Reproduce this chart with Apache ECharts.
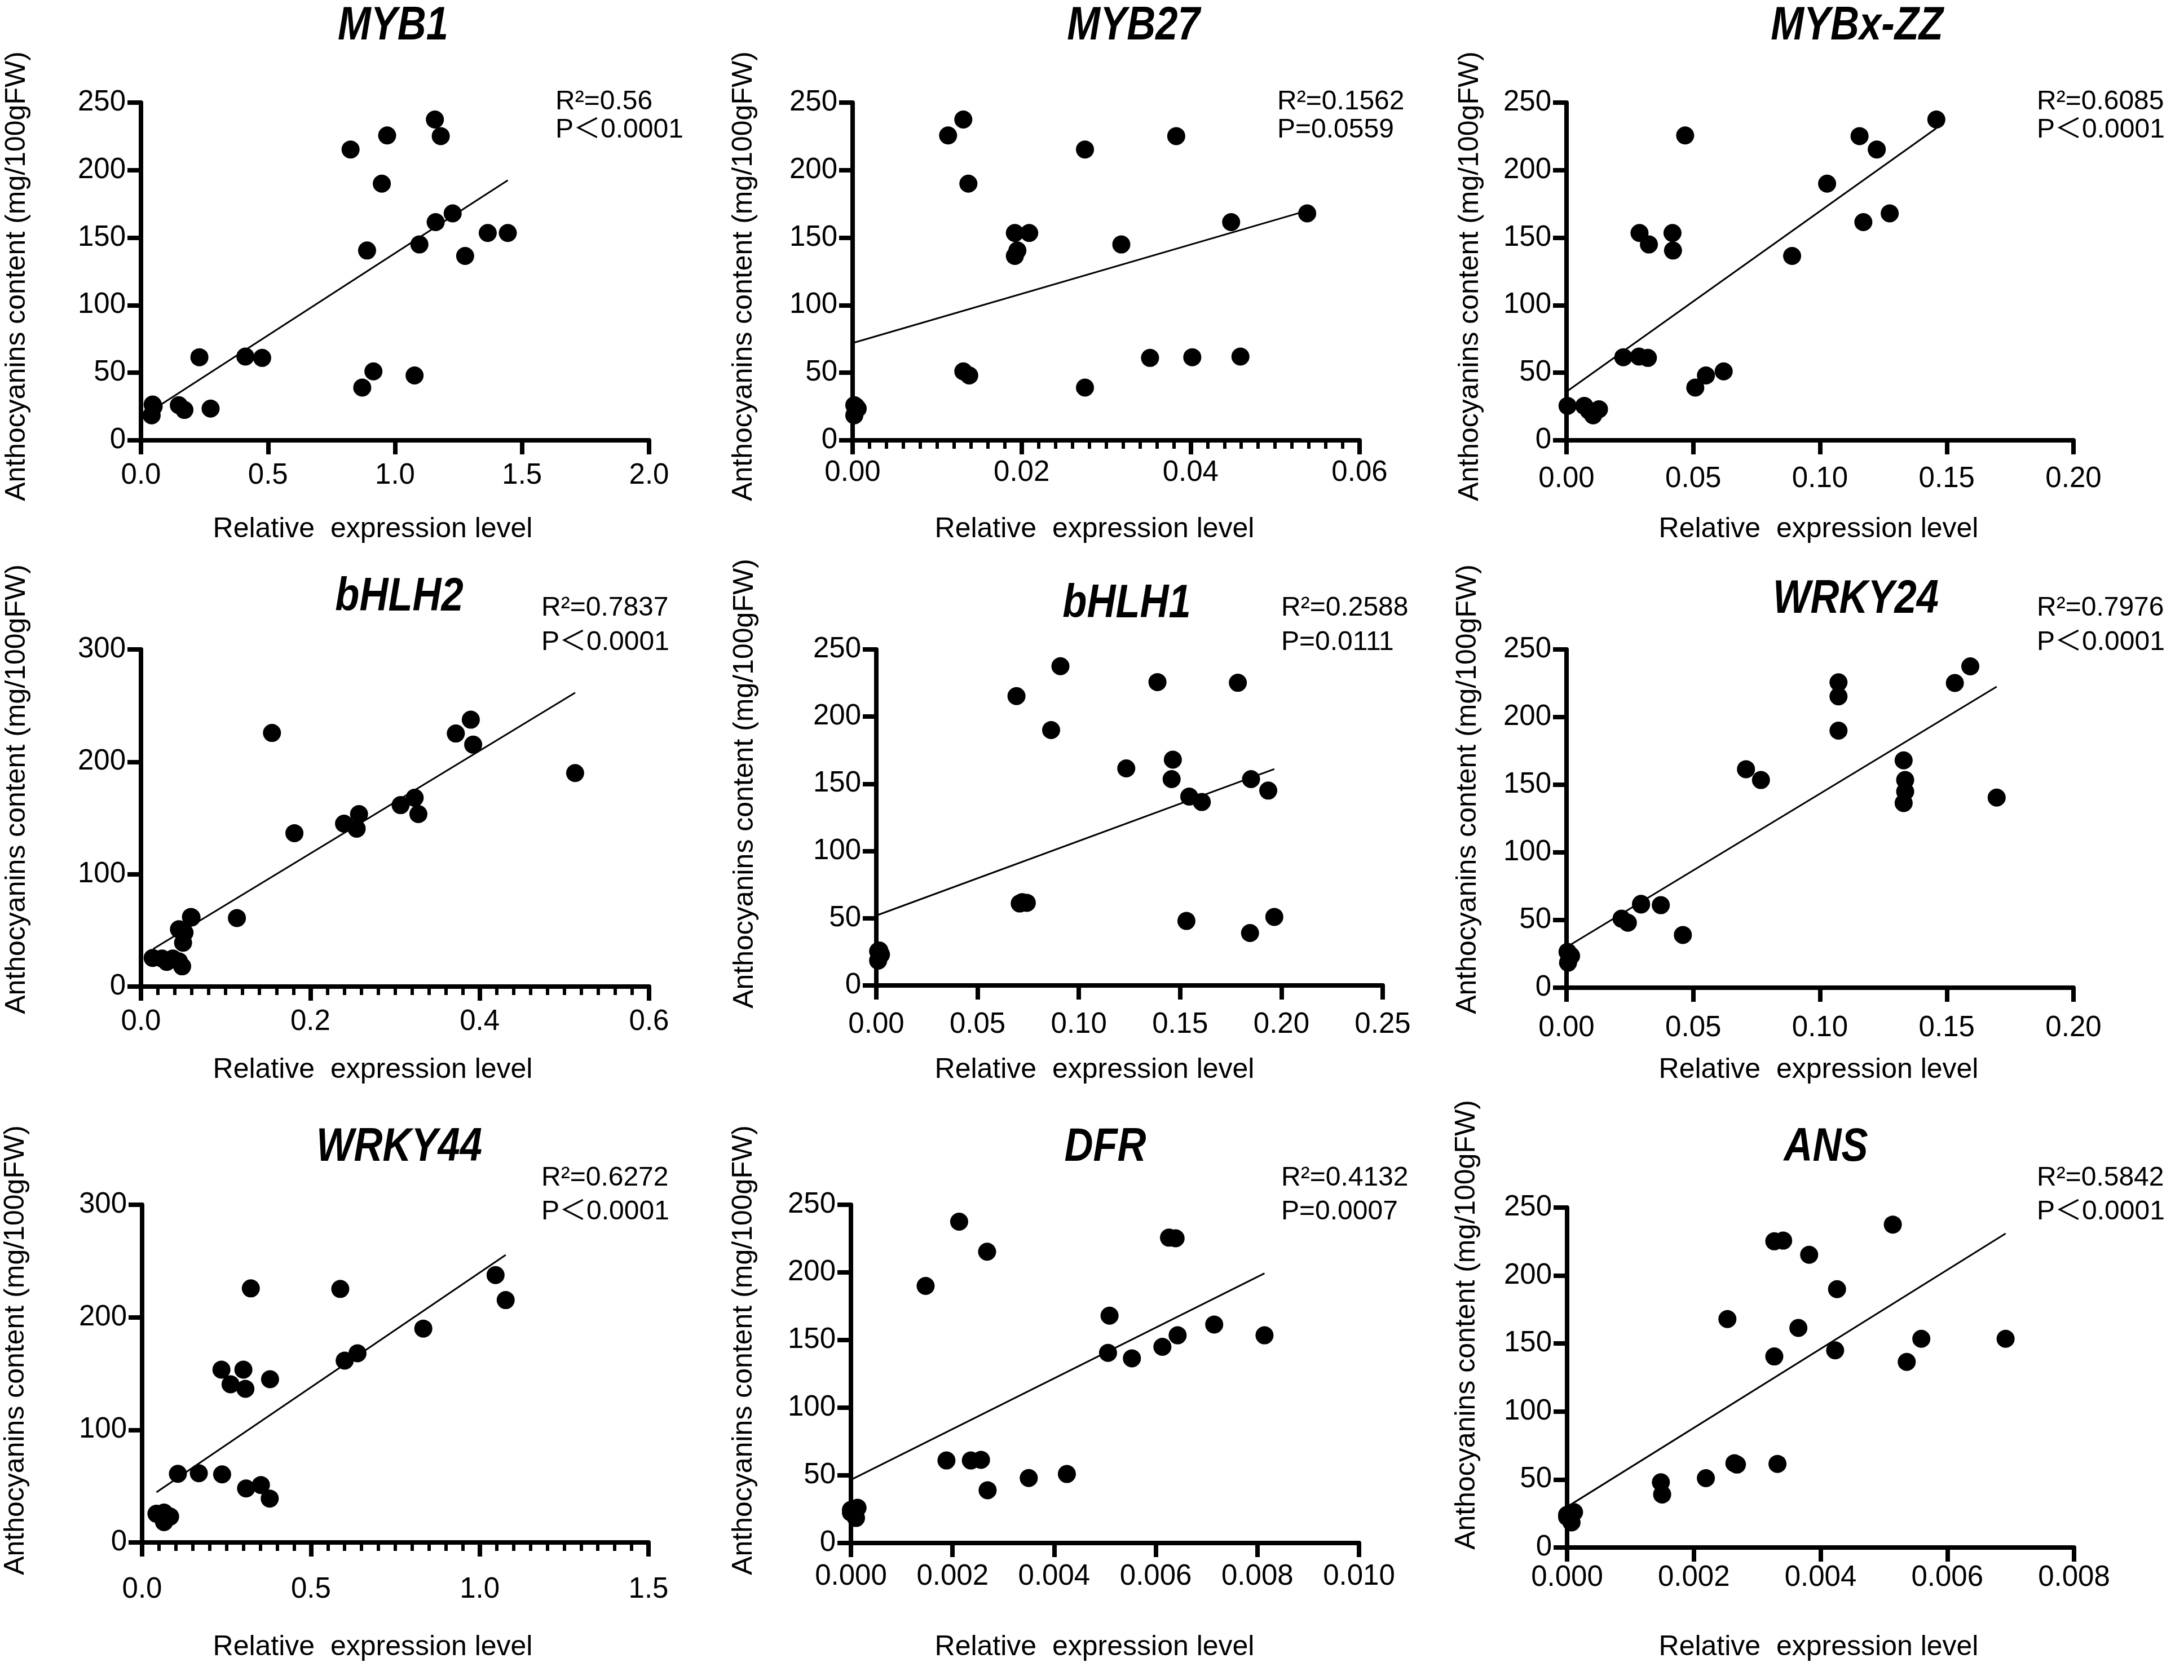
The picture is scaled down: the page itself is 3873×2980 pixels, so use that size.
<!DOCTYPE html>
<html>
<head>
<meta charset="utf-8"/>
<title>Anthocyanins vs relative expression</title>
<script src="https://cdn.jsdelivr.net/npm/echarts@6/dist/echarts.min.js"></script>
<style>
    html, body { margin: 0; padding: 0; background: #fff; }
    #main { width: 3873px; height: 2980px; }
</style>
</head>
<body>
<div id="main"></div>
<script>
    // ---- data ----
    var genes = ['MYB1', 'MYB27', 'MYBx-ZZ', 'bHLH2', 'bHLH1', 'WRKY24', 'WRKY44', 'DFR', 'ANS'];
    var r2Labels = ['R\u00b2=0.56', 'R\u00b2=0.1562', 'R\u00b2=0.6085', 'R\u00b2=0.7837', 'R\u00b2=0.2588',
        'R\u00b2=0.7976', 'R\u00b2=0.6272', 'R\u00b2=0.4132', 'R\u00b2=0.5842'];
    var pLabels = ['P\uff1c0.0001', 'P=0.0559', 'P\uff1c0.0001', 'P\uff1c0.0001', 'P=0.0111',
        'P\uff1c0.0001', 'P\uff1c0.0001', 'P=0.0007', 'P\uff1c0.0001'];

    var myb1X = [1.157, 0.969, 1.180, 0.825, 0.948, 1.227, 1.160, 1.365, 1.444, 1.096, 0.890, 1.276, 0.230, 0.411, 0.477, 0.915, 1.077, 0.871, 0.046, 0.042, 0.149, 0.171, 0.274, 0.050];
    var myb1Y = [237.5, 225.7, 225.2, 215.3, 190, 168, 161.5, 153.5, 153.5, 145, 140.5, 136.5, 61.5, 62, 61, 51, 48, 39, 26.5, 18.5, 26, 22.5, 23.5, 25];

    var myb27X = [0.0131, 0.0113, 0.0383, 0.0275, 0.0137, 0.0538, 0.0448, 0.0192, 0.0209, 0.0318, 0.0195, 0.0192, 0.0352, 0.0402, 0.0459, 0.0131, 0.0138, 0.0275, 0.0002, 0.0006, 0.0002, 0.0004];
    var myb27Y = [237.5, 225.7, 225.2, 215.3, 190, 168, 161.5, 153.5, 153.5, 145, 140.5, 136.5, 61, 61.5, 62, 51, 48, 39, 26, 23.5, 18.5, 25];

    var mybxX = [0.1459, 0.0468, 0.1156, 0.1224, 0.1028, 0.1275, 0.1171, 0.0288, 0.0418, 0.0325, 0.0420, 0.0890, 0.0224, 0.0286, 0.0321, 0.0620, 0.0550, 0.0508, 0.0004, 0.0070, 0.0088, 0.0105, 0.0128];
    var mybxY = [237.5, 225.7, 225.2, 215.3, 190, 168, 161.5, 153.5, 153.5, 145, 140.5, 136.5, 61.5, 62, 61, 51, 48, 39, 25.5, 25.5, 22, 18.5, 23];

    var bhlh2X = [0.3895, 0.1547, 0.3718, 0.3923, 0.5127, 0.3232, 0.3066, 0.2575, 0.3276, 0.2398, 0.2547, 0.1812, 0.0597, 0.1133, 0.0448, 0.0514, 0.0497, 0.0138, 0.0249, 0.0304, 0.0376, 0.0448, 0.0486, 0.0590];
    var bhlh2Y = [237.5, 225.7, 225.2, 215.3, 190, 168, 161.5, 153.5, 153.5, 145, 140.5, 136.5, 61.5, 61, 51, 48, 39, 25.5, 25, 22, 25, 22.5, 18, 62];

    var bhlh1X = [0.0909, 0.1388, 0.1785, 0.0692, 0.0863, 0.1464, 0.1234, 0.1458, 0.1850, 0.1935, 0.1545, 0.1607, 0.0708, 0.0743, 0.0720, 0.1531, 0.1965, 0.1845, 0.0009, 0.0023, 0.0009, 0.0015];
    var bhlh1Y = [237.5, 225.7, 225.2, 215.3, 190, 168, 161.5, 153.5, 153.5, 145, 140.5, 136.5, 61, 61.5, 62, 48, 51, 39, 25.5, 23, 18.5, 26];

    var wrky24X = [0.1593, 0.1073, 0.1532, 0.1073, 0.1073, 0.1330, 0.0708, 0.0767, 0.1336, 0.1336, 0.1697, 0.1330, 0.0294, 0.0372, 0.0294, 0.0217, 0.0242, 0.0459, 0.0004, 0.0018, 0.0006, 0.0010];
    var wrky24Y = [237.5, 225.7, 225.2, 215.3, 190, 168, 161.5, 153.5, 153.5, 145, 140.5, 136.5, 61.5, 61, 62, 51, 48, 39, 26.5, 23.5, 18.5, 25];

    var wrky44X = [1.047, 0.322, 0.587, 1.077, 0.833, 0.638, 0.600, 0.235, 0.300, 0.379, 0.262, 0.306, 0.106, 0.168, 0.237, 0.352, 0.308, 0.378, 0.0425, 0.065, 0.083, 0.065];
    var wrky44Y = [237.5, 225.7, 225.2, 215.3, 190, 168, 161.5, 153.5, 153.5, 145, 140.5, 136.5, 61, 61.5, 60.5, 51, 48, 39, 25.5, 26.5, 23, 18];

    var dfrX = [0.00213, 0.00626, 0.00639, 0.00268, 0.00147, 0.00509, 0.00715, 0.00643, 0.00814, 0.00613, 0.00506, 0.00553, 0.00188, 0.00236, 0.00256, 0.00425, 0.00350, 0.00269, 0.0000, 0.00013, 0.0000, 0.00010];
    var dfrY = [237.5, 225.7, 225.2, 215.3, 190, 168, 161.5, 153.5, 153.5, 145, 140.5, 136.5, 61, 61, 61.5, 51, 48, 39, 24.5, 26, 22.5, 18.5];

    var ansX = [0.00514, 0.00327, 0.00341, 0.00382, 0.00426, 0.00253, 0.00365, 0.00559, 0.00692, 0.00423, 0.00327, 0.00536, 0.00264, 0.00268, 0.00332, 0.00219, 0.00148, 0.00150, 0.0000, 0.00011, 0.0000, 0.00007];
    var ansY = [237.5, 225.2, 225.7, 215.3, 190, 168, 161.5, 153.5, 153.5, 145, 140.5, 136.5, 62, 61, 61.5, 51, 48, 39, 24, 26, 22.5, 18.5];

    // fitted line end points (x, y) as drawn in the figure
    var myb1Fit = [[0.042, 22], [1.444, 192.5]];
    var myb27Fit = [[0, 72], [0.0538, 170]];
    var mybxFit = [[0, 36], [0.1459, 231]];
    var bhlh2Fit = [[0.0144, 33.5], [0.5127, 261.5]];
    var bhlh1Fit = [[0, 52], [0.1965, 161]];
    var wrky24Fit = [[0, 30], [0.1697, 222.5]];
    var wrky44Fit = [[0.0425, 44.6], [1.077, 255.4]];
    var dfrFit = [[0, 46.7], [0.00814, 199.3]];
    var ansFit = [[0, 29.9], [0.00692, 230.9]];

    // axis ranges / ticks
    var xMax = [2, 0.06, 0.2, 0.6, 0.25, 0.2, 1.5, 0.01, 0.008];
    var xStep = [0.5, 0.02, 0.05, 0.2, 0.05, 0.05, 0.5, 0.002, 0.002];
    var xDecimals = [1, 2, 2, 1, 2, 2, 1, 3, 3];
    var xMinor = [false, true, false, true, false, false, true, false, false];
    var yMax = [250, 250, 250, 300, 250, 250, 300, 250, 250];
    var yStep = [50, 50, 50, 100, 50, 50, 100, 50, 50];

    var xs = [myb1X, myb27X, mybxX, bhlh2X, bhlh1X, wrky24X, wrky44X, dfrX, ansX];
    var ys = [myb1Y, myb27Y, mybxY, bhlh2Y, bhlh1Y, wrky24Y, wrky44Y, dfrY, ansY];
    var fits = [myb1Fit, myb27Fit, mybxFit, bhlh2Fit, bhlh1Fit, wrky24Fit, wrky44Fit, dfrFit, ansFit];

    // ---- layout (pixels) ----
    // plot box: left, top, right, bottom
    var boxes = [
        [250, 182, 1151, 781], [1512, 182, 2411, 781], [2778, 182, 3677, 781],
        [250, 1152, 1151, 1750], [1554, 1152, 2452, 1748], [2778, 1152, 3677, 1752],
        [252, 2137, 1150, 2736], [1509, 2137, 2410, 2737], [2779, 2142, 3678, 2745]
    ];
    var xLabelMargin = [37, 32, 43, 37, 44, 46, 58, 34, 28];
    var titlePos = [[697, 47], [2010, 47], [3293, 47], [708, 1060], [1998, 1072], [3291, 1064], [708, 2036], [1960, 2036], [3238, 2036]];
    var statX = [985, 2265, 3612, 960, 2272, 3612, 960, 2272, 3612];
    var statY = [[181, 231], [181, 231], [181, 231], [1079, 1140], [1079, 1140], [1079, 1140], [2090, 2150], [2090, 2150], [2090, 2150]];
    var yNamePos = [[30, 490], [1319, 490], [2607, 490], [30, 1400], [1321, 1390], [2603, 1400], [28, 2395], [1319, 2395], [2601, 2350]];
    var xNamePos = [[661, 939], [1941, 939], [3225, 939], [661, 1898], [1941, 1898], [3225, 1898], [661, 2922], [1941, 2922], [3225, 2922]];

    var FONT = '"Liberation Sans", Arial, "Noto Sans CJK SC", sans-serif';
    var LW = 8;

    var grids = [], xAxes = [], yAxes = [], series = [], graphics = [];

    for (var i = 0; i < 9; i++) {
        var b = boxes[i];
        grids.push({left: b[0], top: b[1], width: b[2] - b[0], height: b[3] - b[1], containLabel: false});

        (function (dec) {
            xAxes.push({
                type: 'value', gridIndex: i, min: 0, max: xMax[i], interval: xStep[i],
                axisLine: {show: true, onZero: false, lineStyle: {color: '#000', width: LW}},
                axisTick: {show: true, length: 25, lineStyle: {color: '#000', width: LW}},
                minorTick: {show: xMinor[i], splitNumber: 10, length: 15, lineStyle: {color: '#000', width: 6}},
                splitLine: {show: false},
                axisLabel: {
                    color: '#000', fontSize: 51, fontFamily: FONT, margin: xLabelMargin[i],
                    formatter: function (v) { return v.toFixed(dec); }
                }
            });
        })(xDecimals[i]);

        yAxes.push({
            type: 'value', gridIndex: i, min: 0, max: yMax[i], interval: yStep[i],
            axisLine: {show: true, onZero: false, lineStyle: {color: '#000', width: LW}},
            axisTick: {show: true, length: 24, lineStyle: {color: '#000', width: LW}},
            splitLine: {show: false},
            axisLabel: {color: '#000', fontSize: 51, fontFamily: FONT, margin: 27}
        });

        var pts = [];
        for (var k = 0; k < xs[i].length; k++) pts.push([xs[i][k], ys[i][k]]);

        series.push({
            type: 'line', xAxisIndex: i, yAxisIndex: i, data: fits[i],
            symbol: 'none', silent: true, z: 2,
            lineStyle: {color: '#000', width: 3}
        });
        series.push({
            type: 'scatter', xAxisIndex: i, yAxisIndex: i, data: pts,
            symbol: 'circle', symbolSize: 32, z: 3,
            itemStyle: {color: '#000', opacity: 1}
        });

        // gene title, narrow bold italic
        graphics.push({
            type: 'text', x: titlePos[i][0], y: titlePos[i][1], scaleX: 0.84,
            style: {
                text: genes[i], font: 'italic bold 84px ' + FONT, fill: '#000',
                align: 'center', verticalAlign: 'middle', textAlign: 'center', textVerticalAlign: 'middle'
            }
        });
        // statistics
        graphics.push({
            type: 'text', x: statX[i], y: statY[i][0],
            style: {text: r2Labels[i], font: '48px ' + FONT, fill: '#000',
                align: 'left', verticalAlign: 'middle', textAlign: 'left', textVerticalAlign: 'middle'}
        });
        graphics.push({
            type: 'text', x: statX[i], y: statY[i][1],
            style: {text: pLabels[i], font: '48px ' + FONT, fill: '#000',
                align: 'left', verticalAlign: 'middle', textAlign: 'left', textVerticalAlign: 'middle'}
        });
        // axis names
        graphics.push({
            type: 'text', x: yNamePos[i][0], y: yNamePos[i][1], rotation: Math.PI / 2,
            style: {text: 'Anthocyanins content (mg/100gFW)', font: '50px ' + FONT, fill: '#000',
                align: 'center', verticalAlign: 'middle', textAlign: 'center', textVerticalAlign: 'middle'}
        });
        graphics.push({
            type: 'text', x: xNamePos[i][0], y: xNamePos[i][1],
            style: {text: 'Relative  expression level', font: '50px ' + FONT, fill: '#000',
                align: 'center', verticalAlign: 'middle', textAlign: 'center', textVerticalAlign: 'middle'}
        });
    }

    var chart = echarts.init(document.getElementById('main'), null, {renderer: 'canvas'});
    chart.setOption({
        animation: false,
        backgroundColor: '#fff',
        grid: grids,
        xAxis: xAxes,
        yAxis: yAxes,
        series: series,
        graphic: graphics
    });
</script>
</body>
</html>
